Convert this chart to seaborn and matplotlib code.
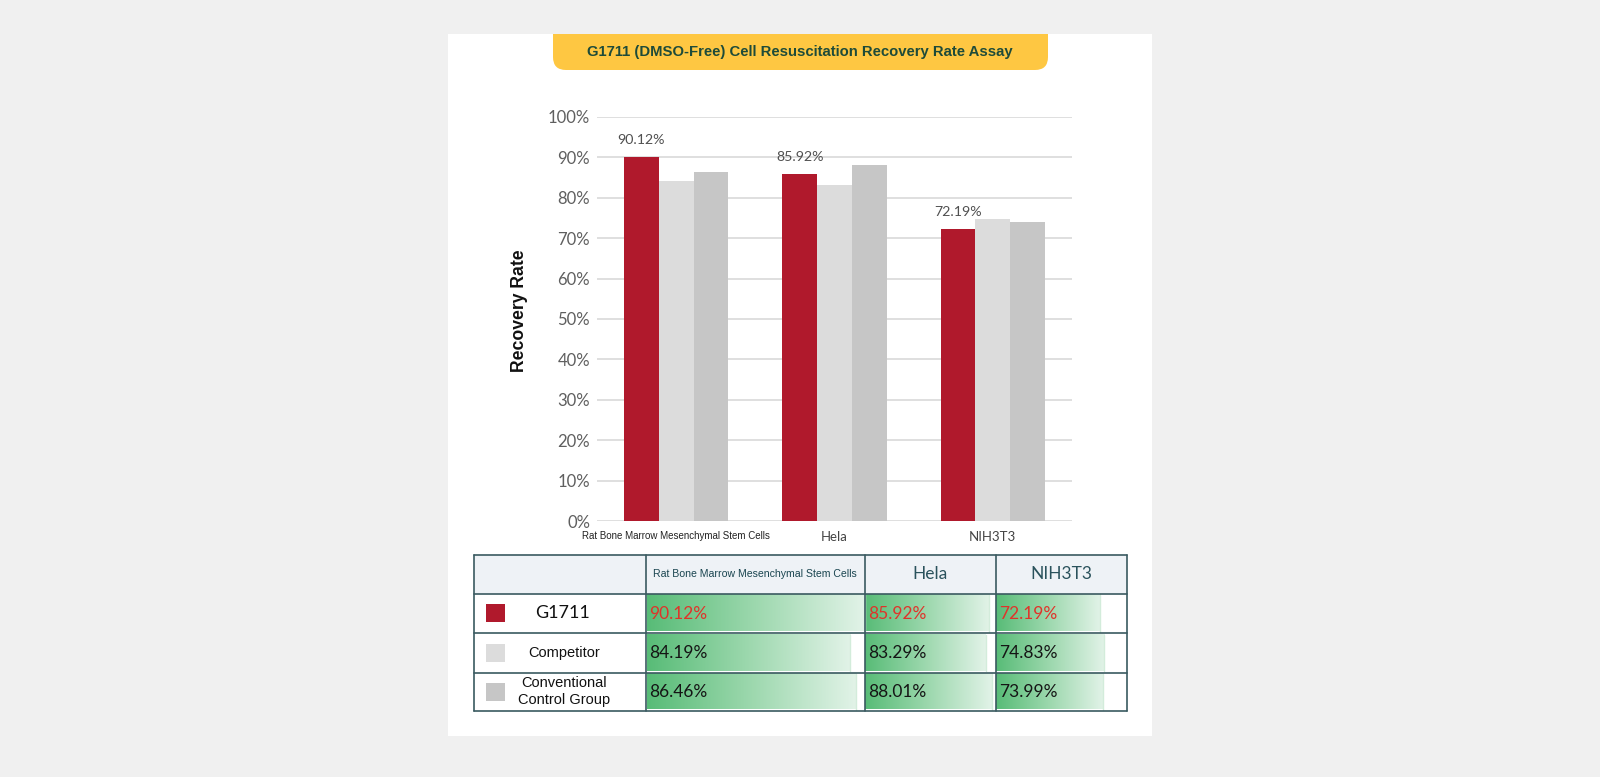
import numpy as np
import pandas as pd
import matplotlib
matplotlib.use("Agg")
import matplotlib.pyplot as plt
from matplotlib.patches import Rectangle, FancyBboxPatch
from matplotlib.colors import LinearSegmentedColormap
import seaborn as sns

# data
title = "G1711 (DMSO-Free) Cell Resuscitation Recovery Rate Assay"
cell_lines = ["Rat Bone Marrow Mesenchymal Stem Cells", "Hela", "NIH3T3"]
groups = ["G1711", "Competitor", "Conventional\nControl Group"]
g1711 = [90.12, 85.92, 72.19]
competitor = [84.19, 83.29, 74.83]
control = [86.46, 88.01, 73.99]
y_ticks = list(range(0, 101, 10))

colors = ["#b0192c", "#dcdcdc", "#c6c6c6"]
geo = "Lato"
arial = "Liberation Sans"

df = pd.DataFrame({
    "cell": cell_lines * 3,
    "group": np.repeat(groups, len(cell_lines)),
    "rate": g1711 + competitor + control,
})

sns.set_style("white")
fig = plt.figure(figsize=(16, 7.77), dpi=100, facecolor="#f0f0f0")

# background layer in pixel coordinates (card, banner, table)
bg = fig.add_axes([0, 0, 1, 1], zorder=0)
bg.axis("off")
card = Rectangle((448, 34), 704, 702, fc="white", ec="none", zorder=0)
bg.add_patch(card)
band = FancyBboxPatch((553, 10), 495, 60, boxstyle="round,pad=0,rounding_size=13",
                      fc="#fec742", ec="none", zorder=1)
bg.add_patch(band)
band.set_clip_path(card)
bg.text(800, 52, title, ha="center", va="center", fontsize=10.7, fontweight="bold",
        family=arial, color="#1e4b39", zorder=2)
bg.text(520, 311, "Recovery Rate", rotation=90, ha="center", va="center",
        fontsize=12.7, fontweight="bold", family=arial, color="#111111")

# bar chart
ax = fig.add_axes([597 / 1600, (777 - 521) / 777, 475 / 1600, 404 / 777], zorder=2)
ax.set_facecolor("none")
sns.barplot(data=df, x="cell", y="rate", hue="group", palette=colors, width=0.66,
            linewidth=0, saturation=1, errorbar=None, legend=False, ax=ax)
ax.bar_label(ax.containers[0], labels=[f"{v:.2f}%" for v in g1711], padding=8,
             fontsize=10.2, family=geo, color="#505050")
ax.set_xlim(-0.5, 2.5)
ax.set_ylim(0, 100)
ax.set_yticks(y_ticks)
ax.set_yticklabels([f"{t}%" for t in y_ticks], family=geo, fontsize=12, color="#5f5f5f")
ax.grid(axis="y", color="#d9d9d9", lw=1.2)
ax.set_axisbelow(True)
for s in ax.spines.values():
    s.set_visible(False)
ax.tick_params(length=0)
ax.tick_params(axis="y", pad=5)
ax.tick_params(axis="x", pad=7)
ax.set_xlabel("")
ax.set_ylabel("")
ax.set_xticks(range(len(cell_lines)))
xl = ax.set_xticklabels(cell_lines)
xl[0].set_family(arial)
xl[0].set_fontsize(7.0)
xl[0].set_color("#222222")
for t in xl[1:]:
    t.set_family(geo)
    t.set_fontsize(9.5)
    t.set_color("#444444")

# table below the chart
col_x = [473.5, 646, 864.5, 995.5, 1126.5]
row_y = [555, 593.5, 633, 672.5, 711]
line_c = "#3a5a60"
bg.add_patch(Rectangle((col_x[0], row_y[0]), col_x[-1] - col_x[0], row_y[1] - row_y[0],
                       fc="#eef2f6", ec="none", zorder=1))
hdr_y = (row_y[0] + row_y[1]) / 2
for c, name in enumerate(cell_lines):
    cx = (col_x[c + 1] + col_x[c + 2]) / 2
    if c == 0:
        bg.text(cx, hdr_y, name, ha="center", va="center", family=arial, fontsize=7.6,
                color="#1a4550", zorder=3)
    else:
        bg.text(cx, hdr_y, name, ha="center", va="center", family=geo, fontsize=12.5,
                color="#2a525c", zorder=3)

vmax = max(g1711 + competitor + control)
cmap = LinearSegmentedColormap.from_list("databar", ["#58bc77", "#9dd8ae", "#e2f3e8"])
grad = np.linspace(0, 1, 256).reshape(1, -1)
series = [g1711, competitor, control]
for r, vals in enumerate(series):
    y0, y1 = row_y[r + 1], row_y[r + 2]
    cy = (y0 + y1) / 2
    # legend cell
    bg.add_patch(Rectangle((486, cy - 9), 19, 18, fc=colors[r], ec="none", zorder=2))
    if r == 0:
        bg.text(563, cy, groups[r], ha="center", va="center", family=geo, fontsize=13,
                color="#111111", zorder=3)
    else:
        bg.text(564, cy, groups[r], ha="center", va="center", family=arial, fontsize=10.5,
                color="#111111", linespacing=1.25, zorder=3)
    for c, v in enumerate(vals):
        x0 = col_x[c + 1]
        w = (col_x[c + 2] - x0) * v / vmax
        bg.imshow(grad, cmap=cmap, extent=(x0 + 0.5, x0 + w, y1 - 1.5, y0 + 1.5),
                  aspect="auto", interpolation="bilinear", zorder=1)
        bg.plot([x0 + w, x0 + w], [y0 + 1.5, y1 - 1.5], color="#d3ecdb", lw=1, zorder=2)
        bg.text(x0 + 3.5, cy + 0.5, f"{v:.2f}%", ha="left", va="center", family=geo,
                fontsize=12.5, color="#e0332a" if r == 0 else "#151515", zorder=3)

for y in row_y:
    bg.plot([col_x[0], col_x[-1]], [y, y], color=line_c, lw=1.2, zorder=4)
for x in col_x:
    bg.plot([x, x], [row_y[0], row_y[-1]], color=line_c, lw=1.2, zorder=4)

bg.set_xlim(0, 1600)
bg.set_ylim(777, 0)

fig.savefig("out.png", dpi=100, facecolor=fig.get_facecolor())
